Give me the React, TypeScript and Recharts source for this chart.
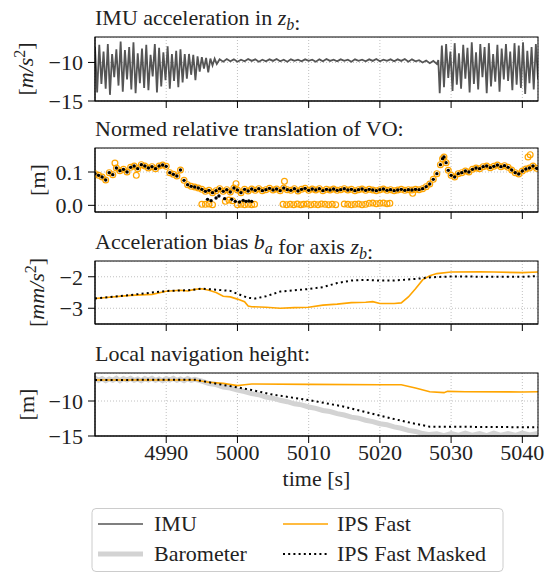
import React from "react";
import {
  ComposedChart,
  Line,
  Scatter,
  XAxis,
  YAxis,
  CartesianGrid,
} from "recharts";

const FONT = '"Liberation Serif", "Times New Roman", "DejaVu Serif", serif';
const FS = 22;
const W = 548;
const H = 574;
const PLOT_LEFT = 95;
const PLOT_RIGHT = 538;

const X_DOMAIN: [number, number] = [4980, 5042.2];
const X_TICKS = [4990, 5000, 5010, 5020, 5030, 5040];

// panel 1: IMU acceleration z_b [m/s^2]
const imuSamples: [number, number][] = [
  [4980.0, -8.0], [4980.3, -13.9], [4980.6, -7.7], [4980.9, -12.8], [4981.2, -8.6], [4981.5, -13.4],
  [4981.8, -7.6], [4982.1, -14.2], [4982.4, -8.9], [4982.7, -11.9], [4983.0, -8.3], [4983.3, -13.0],
  [4983.6, -7.3], [4983.9, -13.8], [4984.2, -8.4], [4984.5, -12.2], [4984.8, -8.0], [4985.1, -13.5],
  [4985.4, -7.4], [4985.7, -14.0], [4986.0, -8.8], [4986.3, -12.7], [4986.6, -8.2], [4986.9, -13.3],
  [4987.2, -7.7], [4987.5, -13.6], [4987.8, -9.0], [4988.1, -11.8], [4988.4, -7.6], [4988.7, -13.9],
  [4989.0, -8.1], [4989.3, -13.1], [4989.6, -8.7], [4989.9, -12.3], [4990.2, -7.9], [4990.5, -13.4],
  [4990.8, -8.9], [4991.1, -12.4], [4991.4, -8.5], [4991.7, -13.2], [4992.0, -8.3], [4992.3, -12.6],
  [4992.6, -8.9], [4992.9, -12.1], [4993.2, -8.9], [4993.5, -11.6], [4993.8, -9.0], [4994.1, -12.3],
  [4994.4, -9.2], [4994.7, -11.2], [4995.0, -9.3], [4995.3, -10.8], [4995.6, -9.4], [4995.9, -11.3],
  [4996.2, -9.5], [4996.5, -10.4], [4996.8, -9.5], [4997.1, -10.2],
  [4997.5, -9.6], [4998.0, -9.9], [4998.5, -9.55], [4999.0, -9.85], [4999.5, -9.6], [5000.0, -9.9],
  [5000.5, -9.65], [5001.0, -9.85], [5001.5, -9.55], [5002.0, -9.8], [5002.5, -9.6], [5003.0, -9.9],
  [5003.5, -9.65], [5004.0, -9.85], [5004.5, -9.6], [5005.0, -9.8], [5005.5, -9.55], [5006.0, -9.85],
  [5006.5, -9.65], [5007.0, -9.9], [5007.5, -9.6], [5008.0, -9.8], [5008.5, -9.65], [5009.0, -9.85],
  [5009.5, -9.6], [5010.0, -9.8], [5010.5, -9.65], [5011.0, -9.9], [5011.5, -9.6], [5012.0, -9.85],
  [5012.5, -9.55], [5013.0, -9.8], [5013.5, -9.65], [5014.0, -9.85], [5014.5, -9.6], [5015.0, -9.8],
  [5015.5, -9.65], [5016.0, -9.9], [5016.5, -9.6], [5017.0, -9.8], [5017.5, -9.65], [5018.0, -9.85],
  [5018.5, -9.6], [5019.0, -9.8], [5019.5, -9.55], [5020.0, -9.85], [5020.5, -9.65], [5021.0, -9.8],
  [5021.5, -9.6], [5022.0, -9.85], [5022.5, -9.6], [5023.0, -9.8], [5023.5, -9.55], [5024.0, -9.9],
  [5024.5, -9.6], [5025.0, -9.85], [5025.5, -9.7], [5026.0, -10.0], [5026.5, -9.75], [5027.0, -10.1],
  [5027.5, -9.8], [5028.0, -10.2], [5028.2, -9.7],
  [5028.4, -14.0], [5028.7, -7.8], [5029.0, -13.2], [5029.3, -7.6], [5029.6, -12.0], [5029.9, -8.6],
  [5030.2, -13.7], [5030.5, -7.5], [5030.8, -12.9], [5031.1, -8.8], [5031.4, -13.4], [5031.7, -7.7],
  [5032.0, -12.1], [5032.3, -8.1], [5032.6, -13.9], [5032.9, -7.4], [5033.2, -12.8], [5033.5, -8.7],
  [5033.8, -13.5], [5034.1, -7.6], [5034.4, -11.9], [5034.7, -8.0], [5035.0, -14.0], [5035.3, -7.5],
  [5035.6, -13.1], [5035.9, -8.9], [5036.2, -12.5], [5036.5, -7.7], [5036.8, -13.8], [5037.1, -8.2],
  [5037.4, -12.2], [5037.7, -7.6], [5038.0, -12.4], [5038.3, -8.6], [5038.6, -13.6], [5038.9, -7.5],
  [5039.2, -12.9], [5039.5, -7.8], [5039.8, -13.3], [5040.1, -7.4], [5040.4, -14.1], [5040.7, -8.5],
  [5041.0, -12.7], [5041.3, -8.0], [5041.6, -13.5], [5041.9, -7.6], [5042.2, -12.2],
];

// panel 2: normed relative translation of VO [m], points shared by both series
const voMain: [number, number][] = [
  [4980.0, 0.095], [4980.5, 0.09], [4981.0, 0.085], [4981.5, 0.076], [4982.0, 0.098], [4982.5, 0.092],
  [4983.0, 0.112], [4983.5, 0.104], [4984.0, 0.108], [4984.5, 0.1], [4985.0, 0.114], [4985.5, 0.118],
  [4986.0, 0.11], [4986.5, 0.122], [4987.0, 0.118], [4987.5, 0.112], [4988.0, 0.116], [4988.5, 0.11],
  [4989.0, 0.118], [4989.5, 0.121], [4990.0, 0.117], [4990.5, 0.098], [4991.0, 0.093], [4991.5, 0.088],
  [4992.0, 0.106], [4992.5, 0.075], [4993.0, 0.062], [4993.5, 0.057], [4994.0, 0.055], [4994.5, 0.052],
  [4995.0, 0.048], [4995.5, 0.042], [4996.0, 0.045], [4996.5, 0.038], [4997.0, 0.044], [4997.5, 0.05],
  [4998.0, 0.042], [4998.5, 0.047], [4999.0, 0.04], [4999.5, 0.052], [5000.0, 0.046], [5000.5, 0.038],
  [5001.0, 0.048], [5001.5, 0.043], [5002.0, 0.049], [5002.5, 0.045], [5003.0, 0.05], [5003.5, 0.044],
  [5004.0, 0.047], [5004.5, 0.051], [5005.0, 0.046], [5005.5, 0.049], [5006.0, 0.044], [5006.5, 0.052],
  [5007.0, 0.047], [5007.5, 0.045], [5008.0, 0.05], [5008.5, 0.043], [5009.0, 0.048], [5009.5, 0.051],
  [5010.0, 0.045], [5010.5, 0.049], [5011.0, 0.046], [5011.5, 0.05], [5012.0, 0.044], [5012.5, 0.048],
  [5013.0, 0.046], [5013.5, 0.049], [5014.0, 0.045], [5014.5, 0.047], [5015.0, 0.05], [5015.5, 0.046],
  [5016.0, 0.048], [5016.5, 0.044], [5017.0, 0.047], [5017.5, 0.049], [5018.0, 0.045], [5018.5, 0.048],
  [5019.0, 0.046], [5019.5, 0.044], [5020.0, 0.047], [5020.5, 0.049], [5021.0, 0.045], [5021.5, 0.047],
  [5022.0, 0.044], [5022.5, 0.046], [5023.0, 0.048], [5023.5, 0.045], [5024.0, 0.047], [5024.5, 0.046],
  [5025.0, 0.048], [5025.5, 0.047], [5026.0, 0.05], [5026.5, 0.056], [5027.0, 0.064], [5027.5, 0.078],
  [5028.0, 0.095], [5028.5, 0.122], [5028.8, 0.14], [5029.0, 0.145], [5029.3, 0.128], [5029.6, 0.105],
  [5030.0, 0.09], [5030.5, 0.085], [5031.0, 0.095], [5031.5, 0.098], [5032.0, 0.103], [5032.5, 0.1],
  [5033.0, 0.108], [5033.5, 0.112], [5034.0, 0.11], [5034.5, 0.116], [5035.0, 0.118], [5035.5, 0.113],
  [5036.0, 0.117], [5036.5, 0.121], [5037.0, 0.116], [5037.5, 0.119], [5038.0, 0.114], [5038.5, 0.106],
  [5039.0, 0.098], [5039.5, 0.094], [5040.0, 0.103], [5040.5, 0.109], [5041.0, 0.112], [5041.5, 0.118],
  [5042.0, 0.111],
];

// orange-only VO points (dropouts near zero and outliers)
const voFastOnly: [number, number][] = [
  [4982.8, 0.127], [4985.8, 0.09], [4995.0, 0.003], [4995.5, 0.003], [4996.0, 0.004], [4996.5, 0.002],
  [4998.3, 0.012], [4998.8, 0.016], [4999.3, 0.014], [4999.8, 0.065], [5000.0, 0.002], [5000.5, 0.003],
  [5001.0, 0.002], [5001.5, 0.003], [5002.0, 0.002], [5002.4, 0.003], [5006.4, 0.003], [5006.6, 0.072],
  [5006.9, 0.002], [5007.4, 0.003], [5007.9, 0.002], [5008.4, 0.004], [5008.9, 0.002], [5009.3, 0.003],
  [5009.8, 0.004], [5010.3, 0.002], [5010.8, 0.003], [5011.3, 0.002], [5011.8, 0.004], [5012.3, 0.003],
  [5012.8, 0.002], [5013.3, 0.003], [5013.8, 0.002], [5015.0, 0.004], [5015.5, 0.003], [5016.0, 0.002],
  [5016.5, 0.003], [5017.0, 0.004], [5017.5, 0.002], [5018.0, 0.003], [5018.5, 0.006], [5019.0, 0.007],
  [5019.5, 0.005], [5020.0, 0.006], [5020.5, 0.007], [5021.0, 0.005], [5021.4, 0.006], [5024.6, 0.036],
  [5040.8, 0.145], [5041.1, 0.152],
];

// black-only VO points
const voMaskedOnly: [number, number][] = [
  [4995.8, 0.018], [4996.3, 0.014], [4997.0, 0.022], [4997.4, 0.028], [4998.2, 0.02], [4999.2, 0.018],
  [4999.7, 0.012], [5000.3, 0.01], [5000.8, 0.015], [5001.2, 0.012], [5001.6, 0.013], [5002.0, 0.012],
];

// panel 3: acceleration bias b_a, axis z_b [mm/s^2]
const biasFast: [number, number][] = [
  [4980, -2.69], [4985, -2.59], [4988, -2.56], [4990, -2.46], [4992, -2.43], [4993, -2.45],
  [4994, -2.4], [4995, -2.38], [4996, -2.43], [4997, -2.5], [4998, -2.62], [4999, -2.64],
  [5000, -2.71], [5001, -2.79], [5001.5, -2.93], [5002, -2.95], [5004, -2.97], [5006, -3.0],
  [5008, -2.98], [5010, -2.97], [5012, -2.9], [5014, -2.87], [5016, -2.82], [5018, -2.81],
  [5019, -2.79], [5020, -2.85], [5022, -2.85], [5023, -2.83], [5024, -2.64], [5025, -2.38],
  [5026, -2.1], [5027, -1.97], [5028, -1.9], [5030, -1.85], [5034, -1.84], [5036, -1.85],
  [5040, -1.87], [5042.2, -1.85],
];
const biasMasked: [number, number][] = [
  [4980, -2.69], [4985, -2.58], [4990, -2.45], [4993, -2.43], [4995, -2.38], [4997, -2.41],
  [4999, -2.45], [5000, -2.54], [5001.5, -2.67], [5002.5, -2.69], [5004, -2.62], [5006, -2.47],
  [5008, -2.43], [5010, -2.39], [5012, -2.33], [5014, -2.2], [5016, -2.12], [5018, -2.1],
  [5020, -2.12], [5022, -2.12], [5025, -2.07], [5027, -2.02], [5030, -1.99], [5035, -2.0],
  [5040, -2.0], [5042.2, -1.98],
];

// panel 4: local navigation height [m]
const heightBaro: [number, number][] = [
  [4980, -6.75], [4980.5, -7.05], [4981, -6.8], [4981.5, -7.1], [4982, -6.85], [4982.5, -7.05],
  [4983, -6.75], [4983.5, -7.1], [4984, -6.8], [4984.5, -7.0], [4985, -6.75], [4985.5, -7.05],
  [4986, -6.85], [4986.5, -7.1], [4987, -6.8], [4987.5, -7.0], [4988, -6.75], [4988.5, -7.05],
  [4989, -6.85], [4989.5, -7.1], [4990, -6.8], [4990.5, -7.0], [4991, -6.75], [4991.5, -7.05],
  [4992, -6.85], [4992.5, -7.1], [4993, -6.8], [4993.5, -7.05], [4994, -6.9], [4995, -7.15],
  [4996, -7.5], [4997, -7.65], [4998, -8.0], [4999, -8.15], [5000, -8.45], [5001, -8.65],
  [5002, -8.95], [5003, -9.1], [5004, -9.45], [5005, -9.6], [5006, -9.9], [5007, -10.1],
  [5008, -10.4], [5009, -10.55], [5010, -10.85], [5011, -11.05], [5012, -11.35], [5013, -11.5],
  [5014, -11.8], [5015, -12.0], [5016, -12.3], [5017, -12.45], [5018, -12.75], [5019, -12.95],
  [5020, -13.25], [5021, -13.4], [5022, -13.7], [5023, -13.9], [5024, -14.2], [5025, -14.35],
  [5026, -14.65], [5027, -14.8], [5028, -14.7], [5029, -14.95], [5030, -14.65], [5031, -14.9],
  [5032, -14.6], [5033, -14.9], [5034, -14.65], [5035, -14.95], [5036, -14.6], [5037, -14.9],
  [5038, -14.65], [5039, -14.9], [5040, -14.6], [5041, -14.85], [5042.2, -14.65],
];
const heightFast: [number, number][] = [
  [4980, -7.0], [4994, -7.0], [4996, -7.33], [4998, -7.48], [5000, -7.8], [5001, -7.67],
  [5002, -7.57], [5010, -7.62], [5020, -7.67], [5023, -7.67], [5025, -8.14], [5027, -8.67],
  [5029, -8.81], [5029.5, -8.62], [5032, -8.67], [5040, -8.71], [5042.2, -8.67],
];
const heightMasked: [number, number][] = [
  [4980, -7.0], [4994, -6.95], [4996, -7.33], [4998, -7.71], [5000, -8.05], [5002, -8.43],
  [5005, -9.1], [5010, -9.86], [5015, -10.81], [5020, -12.1], [5024, -13.05], [5027, -13.67],
  [5030, -13.67], [5035, -13.71], [5042.2, -13.76],
];

const C_IMU = "#555555";
const C_FAST = "#FFA500";
const C_BARO = "#D3D3D3";
const C_MASK = "#000000";
const DOTS = "2 3.2";

const pts = (a: [number, number][]) => a.map(([t, v]) => ({ t, v }));

const PANELS = [
  { top: 37, h: 64 },
  { top: 148, h: 64 },
  { top: 261, h: 63 },
  { top: 373, h: 63 },
];

const fmt = (digits: number) => (v: number) =>
  (v < 0 ? "\u2212" : "") + Math.abs(v).toFixed(digits);

function Panel({
  idx,
  domain,
  ticks,
  digits = 0,
  showX = false,
  children,
}: {
  idx: number;
  domain: [number, number];
  ticks: number[];
  digits?: number;
  showX?: boolean;
  children: React.ReactNode;
}) {
  const p = PANELS[idx];
  const axisH = showX ? 40 : 16;
  const tickStyle = { fill: "#222", fontSize: FS, fontFamily: FONT };
  return (
    <div style={{ position: "absolute", left: 0, top: p.top, width: W, height: p.h + axisH }}>
      <ComposedChart
        width={W}
        height={p.h + axisH}
        margin={{ top: 0, right: W - PLOT_RIGHT, bottom: 0, left: 0 }}
        style={{ fontFamily: FONT }}
      >
        <CartesianGrid stroke="#b0b0b0" strokeDasharray="1 2" strokeWidth={0.8} />
        <XAxis
          type="number"
          dataKey="t"
          domain={X_DOMAIN}
          allowDataOverflow
          ticks={X_TICKS}
          interval={0}
          height={axisH}
          tickSize={7}
          tickMargin={1}
          axisLine={{ stroke: "#000" }}
          tickLine={{ stroke: "#000" }}
          tick={tickStyle}
          tickFormatter={showX ? (v: number) => String(v) : () => ""}
        />
        <YAxis
          type="number"
          dataKey="v"
          domain={domain}
          allowDataOverflow
          ticks={ticks}
          interval={0}
          width={PLOT_LEFT}
          tickSize={7}
          tickMargin={5}
          axisLine={{ stroke: "#000" }}
          tickLine={{ stroke: "#000" }}
          tick={tickStyle}
          tickFormatter={fmt(digits)}
        />
        {children}
      </ComposedChart>
    </div>
  );
}

const ring = (props: any) => (
  <circle cx={props.cx} cy={props.cy} r={2.9} fill="none" stroke={C_FAST} strokeWidth={1.2} />
);
const dot = (props: any) => <circle cx={props.cx} cy={props.cy} r={1.7} fill={C_MASK} />;

function Sub({ base, sub }: { base: string; sub: string }) {
  return (
    <>
      <tspan fontStyle="italic">{base}</tspan>
      <tspan fontStyle="italic" fontSize={16} dy={5}>
        {sub}
      </tspan>
      <tspan dy={-5}>{""}</tspan>
    </>
  );
}

function YLabel({ x, y, unit, sq }: { x: number; y: number; unit: string; sq: boolean }) {
  return (
    <text
      transform={`translate(${x},${y}) rotate(-90)`}
      textAnchor="middle"
      style={{ fontFamily: FONT }}
      fontSize={FS}
      fill="#222"
      dy={7}
    >
      {sq ? (
        <>
          [<tspan fontStyle="italic">{unit}</tspan>
          <tspan fontSize={16} dy={-8}>
            2
          </tspan>
          <tspan dy={8}>]</tspan>
        </>
      ) : (
        `[${unit}]`
      )}
    </text>
  );
}

export default function App() {
  const imu = pts(imuSamples);
  const vFast = pts([...voMain, ...voFastOnly]);
  const vMask = pts([...voMain, ...voMaskedOnly]);
  const titleY = PANELS.map((p) => p.top - 12);
  const mid = (i: number) => PANELS[i].top + PANELS[i].h / 2;

  return (
    <div
      style={{
        position: "absolute",
        left: 0,
        top: 0,
        width: W,
        height: H,
        background: "#fff",
        fontFamily: FONT,
      }}
    >
      <Panel idx={0} domain={[-15, -6.7]} ticks={[-15, -10]}>
        <Line data={imu} dataKey="v" stroke={C_IMU} strokeWidth={1.8} dot={false} isAnimationActive={false} />
      </Panel>
      <Panel idx={1} domain={[-0.02, 0.172]} ticks={[0, 0.1]} digits={1}>
        <Scatter data={vFast} dataKey="v" shape={ring} isAnimationActive={false} />
        <Scatter data={vMask} dataKey="v" shape={dot} isAnimationActive={false} />
      </Panel>
      <Panel idx={2} domain={[-3.5, -1.5]} ticks={[-3, -2]}>
        <Line data={pts(biasFast)} dataKey="v" stroke={C_FAST} strokeWidth={1.6} dot={false} isAnimationActive={false} />
        <Line data={pts(biasMasked)} dataKey="v" stroke={C_MASK} strokeWidth={2} strokeDasharray={DOTS} dot={false} isAnimationActive={false} />
      </Panel>
      <Panel idx={3} domain={[-15, -6]} ticks={[-15, -10]} showX>
        <Line data={pts(heightBaro)} dataKey="v" stroke={C_BARO} strokeWidth={5} dot={false} isAnimationActive={false} />
        <Line data={pts(heightFast)} dataKey="v" stroke={C_FAST} strokeWidth={1.6} dot={false} isAnimationActive={false} />
        <Line data={pts(heightMasked)} dataKey="v" stroke={C_MASK} strokeWidth={2} strokeDasharray={DOTS} dot={false} isAnimationActive={false} />
      </Panel>

      <svg
        width={W}
        height={H}
        style={{ position: "absolute", left: 0, top: 0, pointerEvents: "none", fontFamily: FONT }}
      >
        {PANELS.map((p, i) => (
          <rect
            key={i}
            x={PLOT_LEFT}
            y={p.top}
            width={PLOT_RIGHT - PLOT_LEFT}
            height={p.h}
            fill="none"
            stroke="#000"
            strokeWidth={1}
          />
        ))}
        <g fontSize={FS} fill="#222">
          <text x={PLOT_LEFT} y={titleY[0]}>
            IMU acceleration in <Sub base="z" sub="b" />:
          </text>
          <text x={PLOT_LEFT} y={titleY[1]}>
            Normed relative translation of VO:
          </text>
          <text x={PLOT_LEFT} y={titleY[2]}>
            Acceleration bias <Sub base="b" sub="a" /> for axis <Sub base="z" sub="b" />:
          </text>
          <text x={PLOT_LEFT} y={titleY[3]}>
            Local navigation height:
          </text>
          <text x={(PLOT_LEFT + PLOT_RIGHT) / 2} y={486} textAnchor="middle">
            time [s]
          </text>
        </g>
        <YLabel x={26} y={mid(0)} unit="m/s" sq />
        <YLabel x={38} y={mid(1)} unit="m" sq={false} />
        <YLabel x={37} y={mid(2)} unit="mm/s" sq />
        <YLabel x={27} y={mid(3)} unit="m" sq={false} />

        <g fontSize={FS} fill="#222">
          <rect x={92} y={508.5} width={411} height={63} rx={4} fill="#fff" stroke="#ccc" strokeWidth={1} />
          <line x1={98} x2={143} y1={524} y2={524} stroke={C_IMU} strokeWidth={1.5} />
          <text x={154} y={531}>IMU</text>
          <line x1={98} x2={143} y1={554} y2={554} stroke={C_BARO} strokeWidth={5} />
          <text x={154} y={561}>Barometer</text>
          <line x1={283} x2={328} y1={524} y2={524} stroke={C_FAST} strokeWidth={1.5} />
          <text x={337} y={531}>IPS Fast</text>
          <line x1={283} x2={328} y1={554} y2={554} stroke={C_MASK} strokeWidth={2} strokeDasharray={DOTS} />
          <text x={337} y={561}>IPS Fast Masked</text>
        </g>
      </svg>
    </div>
  );
}
